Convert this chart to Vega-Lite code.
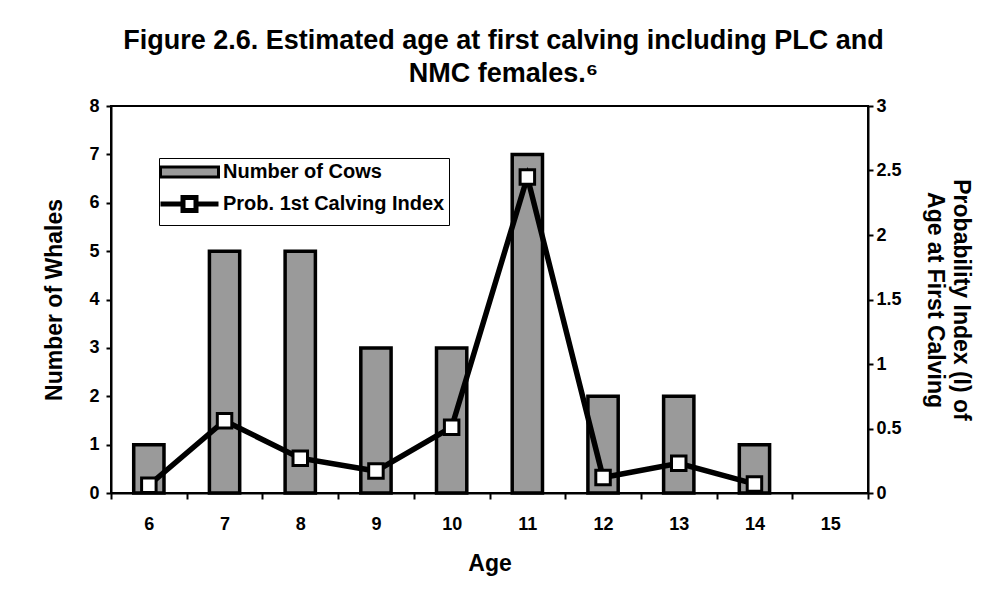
{
  "$schema": "https://vega.github.io/schema/vega-lite/v6.json",
  "width": 757,
  "height": 387,
  "padding": {"left": 43, "top": 27, "right": 5, "bottom": 5},
  "background": "white",
  "title": {
    "text": ["Figure 2.6.  Estimated age at first calving including  PLC and", "NMC females.⁶"],
    "font": "Liberation Sans",
    "fontSize": 27,
    "fontWeight": "bold",
    "color": "black",
    "anchor": "middle",
    "lineHeight": 33,
    "dx": 14,
    "offset": 9
  },
  "data": {
    "values": [
      {"Age": 6, "Cows": 1, "Index": 0.06},
      {"Age": 7, "Cows": 5, "Index": 0.56},
      {"Age": 8, "Cows": 5, "Index": 0.27},
      {"Age": 9, "Cows": 3, "Index": 0.17},
      {"Age": 10, "Cows": 3, "Index": 0.51},
      {"Age": 11, "Cows": 7, "Index": 2.45},
      {"Age": 12, "Cows": 2, "Index": 0.12},
      {"Age": 13, "Cows": 2, "Index": 0.23},
      {"Age": 14, "Cows": 1, "Index": 0.07}
    ]
  },
  "encoding": {
    "x": {
      "field": "Age",
      "type": "ordinal",
      "scale": {"domain": [6, 7, 8, 9, 10, 11, 12, 13, 14, 15], "paddingInner": 0, "paddingOuter": 0},
      "axis": {
        "title": "Age",
        "labelAngle": 0,
        "tickBand": "extent",
        "tickSize": 6,
        "labelPadding": 16,
        "titlePadding": 19
      }
    }
  },
  "layer": [
    {
      "mark": {"type": "bar", "width": {"band": 0.4}, "stroke": "black", "strokeWidth": 3.5},
      "encoding": {
        "y": {
          "field": "Cows",
          "type": "quantitative",
          "scale": {"domain": [0, 8]},
          "axis": {"title": "Number of Whales", "values": [0, 1, 2, 3, 4, 5, 6, 7, 8], "tickSize": 5, "labelPadding": 7, "titlePadding": 22}
        },
        "color": {
          "datum": "Number of Cows",
          "type": "nominal",
          "scale": {"domain": ["Number of Cows", "Prob. 1st Calving Index"], "range": ["#9a9a9a", "white"]},
          "legend": {
            "title": null,
            "orient": "none",
            "legendX": 48,
            "legendY": 52,
            "symbolSize": 625,
            "symbolType": {"expr": "datum.value === 'Number of Cows' ? 'M-1,-0.4H3.64V0.4H-1Z' : 'M-1,0H0.8M1.84,0H3.64M0.8,-0.52H1.84V0.52H0.8Z'"},
            "symbolStrokeColor": "black",
            "symbolStrokeWidth": {"expr": "datum.value === 'Number of Cows' ? 3 : 5"},
            "symbolOpacity": 1,
            "labelOffset": 40,
            "labelLimit": 400,
            "rowPadding": 4,
            "padding": 4,
            "strokeColor": "black",
            "fillColor": "white",
            "labelFont": "Liberation Sans",
            "labelFontSize": 20,
            "labelFontWeight": "bold",
            "labelColor": "black"
          }
        }
      }
    },
    {
      "mark": {"type": "line", "color": "black", "strokeWidth": 5.5, "point": {"shape": "square", "size": 210, "filled": true, "fill": "white", "stroke": "black", "strokeWidth": 3}},
      "encoding": {
        "y": {
          "field": "Index",
          "type": "quantitative",
          "scale": {"domain": [0, 3]},
          "axis": {"orient": "right", "title": ["Probability Index (I) of", "Age at First Calving"], "titleAngle": 90, "titleBaseline": "bottom", "titleLineHeight": 26, "values": [0, 0.5, 1, 1.5, 2, 2.5, 3], "format": "~g", "tickSize": 5, "labelPadding": 3, "titlePadding": 21}
        }
      }
    }
  ],
  "resolve": {"scale": {"y": "independent"}},
  "config": {
    "font": "Liberation Sans",
    "view": {"stroke": "black", "strokeWidth": 2},
    "axis": {
      "grid": false,
      "domainColor": "black",
      "domainWidth": 2,
      "tickColor": "black",
      "tickWidth": 2,
      "labelFont": "Liberation Sans",
      "labelFontSize": 18,
      "labelFontWeight": "bold",
      "labelColor": "black",
      "titleFont": "Liberation Sans",
      "titleFontSize": 23,
      "titleFontWeight": "bold",
      "titleColor": "black"
    }
  }
}
